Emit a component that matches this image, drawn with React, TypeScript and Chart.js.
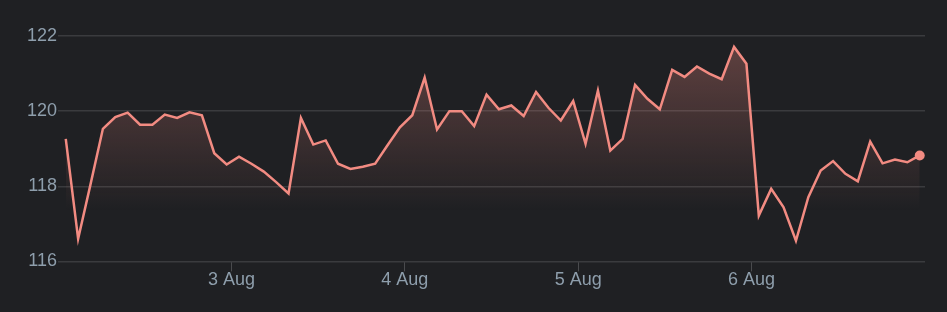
import React, { useEffect, useRef } from "react";
import { Chart, registerables } from "chart.js";

Chart.register(...registerables);

// Hourly-ish samples from 2 Aug to 6 Aug (hours since 2 Aug 00:00)
const TIME_START_HOURS = 1.07;
const TIME_STEP_HOURS = 1.713;

const PRICES: number[] = [
  119.26, 116.6, 118.05, 119.53, 119.84, 119.96, 119.64, 119.64, 119.91, 119.82,
  119.97, 119.89, 118.88, 118.58, 118.79, 118.6, 118.39, 118.11, 117.81, 119.82,
  119.11, 119.22, 118.6, 118.46, 118.52, 118.6, 119.09, 119.57, 119.89, 120.89,
  119.51, 120.0, 120.0, 119.6, 120.44, 120.05, 120.15, 119.87, 120.51, 120.09,
  119.75, 120.27, 119.13, 120.55, 118.95, 119.26, 120.7, 120.33, 120.05, 121.1,
  120.91, 121.19, 121.0, 120.85, 121.71, 121.26, 117.22, 117.93, 117.44, 116.55,
  117.71, 118.42, 118.67, 118.33, 118.13, 119.19, 118.61, 118.71, 118.64, 118.82,
];

const DAY_LABELS = ["2 Aug", "3 Aug", "4 Aug", "5 Aug", "6 Aug", "7 Aug"];
const DAY_TICKS_SHOWN = [24, 48, 72, 96];
const Y_TICKS = [116, 118, 120, 122];

const BG = "#1f2023";
const GRID = "#3a3b3e";
const LINE = "#f28b82";
const TICK_TEXT = "#8e9eac";

export default function App() {
  const canvasRef = useRef<HTMLCanvasElement | null>(null);

  useEffect(() => {
    document.body.style.margin = "0";
    document.body.style.background = BG;
    const canvas = canvasRef.current;
    if (!canvas) return;
    const points = PRICES.map((v, i) => ({ x: TIME_START_HOURS + i * TIME_STEP_HOURS, y: v }));
    const last = PRICES.length - 1;

    const chart = new Chart(canvas, {
      type: "line",
      data: {
        datasets: [
          {
            data: points,
            borderColor: LINE,
            borderWidth: 2.5,
            tension: 0,
            fill: "start",
            backgroundColor: (ctx: any) => {
              const c = ctx.chart;
              const area = c.chartArea;
              if (!area) return "rgba(242,139,130,0.2)";
              const g = c.ctx.createLinearGradient(0, area.top, 0, area.top + 175);
              g.addColorStop(0, "rgba(242,139,130,0.32)");
              g.addColorStop(1, "rgba(242,139,130,0)");
              return g;
            },
            pointRadius: (ctx: any) => (ctx.dataIndex === last ? 5 : 0),
            pointHoverRadius: 5,
            pointBackgroundColor: LINE,
            pointBorderWidth: 0,
          },
        ],
      },
      options: {
        animation: false,
        responsive: true,
        maintainAspectRatio: false,
        layout: { padding: { left: 26, right: 22, top: 36, bottom: 23 } },
        plugins: { legend: { display: false }, tooltip: { enabled: false } },
        scales: {
          x: {
            type: "linear",
            min: 0,
            max: 120,
            afterBuildTicks: (axis: any) => {
              axis.ticks = DAY_TICKS_SHOWN.map((v) => ({ value: v }));
            },
            grid: { drawOnChartArea: false, drawTicks: true, tickLength: 10, color: "#4a4b4e" },
            border: { display: false },
            ticks: {
              autoSkip: false,
              maxRotation: 0,
              padding: -2,
              color: TICK_TEXT,
              font: { family: "'Liberation Sans', Arial, sans-serif", size: 18 },
              callback: (v: any) => DAY_LABELS[Math.round(Number(v) / 24)] ?? "",
            },
          },
          y: {
            min: 116,
            max: 122,
            afterBuildTicks: (axis: any) => {
              axis.ticks = Y_TICKS.map((v) => ({ value: v }));
            },
            grid: { color: GRID, drawTicks: false, lineWidth: 1.5 },
            border: { display: false },
            ticks: {
              padding: 1,
              color: TICK_TEXT,
              font: { family: "'Liberation Sans', Arial, sans-serif", size: 18 },
            },
          },
        },
      },
    });
    return () => chart.destroy();
  }, []);

  return (
    <div style={{ width: 947, height: 312, background: BG, position: "relative" }}>
      <canvas ref={canvasRef} />
    </div>
  );
}
